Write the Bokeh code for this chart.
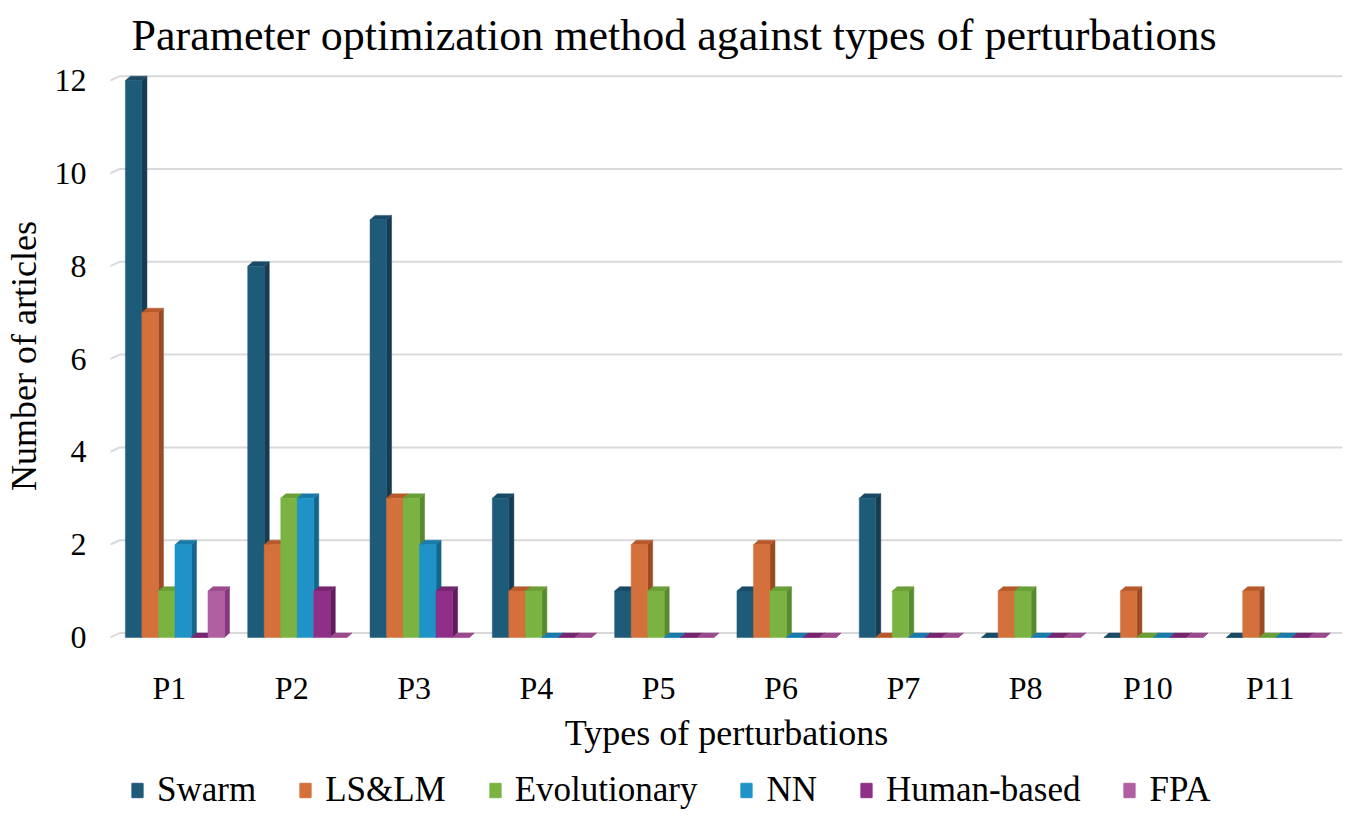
from bokeh.plotting import figure
from bokeh.models import FixedTicker, Legend, LegendItem, ColumnDataSource, Title
from bokeh.layouts import column
from bokeh.embed import file_html
from bokeh.resources import INLINE

# ---- data ----
cats = ["P1", "P2", "P3", "P4", "P5", "P6", "P7", "P8", "P10", "P11"]
series_names = ["Swarm", "LS&LM", "Evolutionary", "NN", "Human-based", "FPA"]
swarm = [12, 8, 9, 3, 1, 1, 3, 0, 0, 0]
ls_lm = [7, 2, 3, 1, 2, 2, 0, 1, 1, 1]
evolutionary = [1, 3, 3, 1, 1, 1, 1, 1, 0, 0]
nn = [2, 3, 2, 0, 0, 0, 0, 0, 0, 0]
human_based = [0, 1, 1, 0, 0, 0, 0, 0, 0, 0]
fpa = [1, 0, 0, 0, 0, 0, 0, 0, 0, 0]
y_ticks = [0, 2, 4, 6, 8, 10, 12]

series = [swarm, ls_lm, evolutionary, nn, human_based, fpa]
front_colors = ["#1E5B79", "#D4703B", "#7BB342", "#1F93C8", "#902F88", "#B060A1"]
side_colors = ["#173B50", "#9A4A24", "#5A8A2E", "#15668C", "#601D5B", "#86387A"]
top_colors = ["#1A4B66", "#B65A2C", "#6A9F38", "#1A7BAA", "#76266F", "#9C4A8E"]

FONT = "Liberation Serif"
X0, X1 = -0.482, 9.591
Y0, Y1 = -0.13, 12.26

p = figure(frame_width=1232, frame_height=575, output_backend="svg", toolbar_location=None,
           x_range=(X0, X1), y_range=(Y0, Y1),
           min_border_left=102, min_border_right=5, min_border_top=62,
           min_border_bottom=0)
p.outline_line_color = None
p.xgrid.visible = False
p.ygrid.visible = False
p.background_fill_color = "white"

p.title.text = "Parameter optimization method against types of perturbations"
p.title.align = "left"
p.title.offset = 21
p.title.standoff = 17
p.title.text_font = FONT
p.title.text_font_size = "44px"
p.title.text_font_style = "normal"
p.title.text_color = "#000000"

# depth of the 3D effect
dx = 0.041
dy = 0.095

# back-wall gridlines with a slanted floor edge
gx = []
gy = []
for t in y_ticks:
    gx.append([X0 - 0.02, X0 + 0.075, X1])
    gy.append([t - 0.02, t + dy, t + dy])
p.multi_line(gx, gy, line_color="#D9D9D9", line_width=2)

n = len(series)
group_w = 0.81
bw = group_w / n
shift = 0.045
for k, vals in enumerate(series):
    lefts = [i + shift - group_w / 2 + k * bw for i in range(len(cats))]
    rights = [l + bw for l in lefts]
    sx, sy, tx, ty = [], [], [], []
    for l, r, v in zip(lefts, rights, vals):
        sx.append([r, r + dx, r + dx, r])
        sy.append([0, dy, v + dy, v])
        tx.append([l, l + dx, r + dx, r])
        ty.append([v, v + dy, v + dy, v])
    p.patches(sx, sy, fill_color=side_colors[k], line_color=side_colors[k], line_width=0.5)
    p.patches(tx, ty, fill_color=top_colors[k], line_color=top_colors[k], line_width=0.5)
    src = ColumnDataSource(dict(left=lefts, right=rights, top=vals, bottom=[0] * len(vals)))
    p.quad(left="left", right="right", top="top", bottom="bottom", source=src,
           fill_color=front_colors[k], line_color=front_colors[k], line_width=0.5)

# axes
p.xaxis.ticker = FixedTicker(ticks=list(range(len(cats))))
p.xaxis.major_label_overrides = {i: c for i, c in enumerate(cats)}
p.yaxis.ticker = FixedTicker(ticks=y_ticks)
p.yaxis.axis_label = "Number of articles"
for ax in (p.xaxis, p.yaxis):
    ax.axis_line_color = None
    ax.major_tick_line_color = None
    ax.minor_tick_line_color = None
    ax.major_tick_out = 0
    ax.major_tick_in = 0
    ax.major_label_text_font = FONT
    ax.major_label_text_font_size = "32px"
    ax.major_label_text_color = "#000000"
    ax.axis_label_text_font = FONT
    ax.axis_label_text_font_size = "36px"
    ax.axis_label_text_font_style = "normal"
    ax.axis_label_text_color = "#000000"
p.xaxis.major_label_standoff = 26
p.yaxis.major_label_standoff = 24
p.yaxis.axis_label_standoff = 8

xtitle = Title(text="Types of perturbations", align="center", text_font=FONT,
               text_font_size="36px", text_font_style="normal", text_color="#000000",
               standoff=4)
p.add_layout(xtitle, "below")

# ---- legend strip ----
lg = figure(width=1339, height=56, output_backend="svg", toolbar_location=None,
            x_range=(0, 1), y_range=(0, 1), x_axis_type=None, y_axis_type=None,
            min_border_left=0, min_border_right=0, min_border_top=0, min_border_bottom=0)
lg.outline_line_color = None
lg.xgrid.visible = False
lg.ygrid.visible = False
items = []
for k, name in enumerate(series_names):
    # legend swatches only: one row placed outside the visible range
    r = lg.quad(left=[5], right=[6], top=[5], bottom=[4],
                fill_color=front_colors[k], line_color=front_colors[k])
    items.append(LegendItem(label=name, renderers=[r]))
legend = Legend(items=items, orientation="horizontal", location=(20, 0),
                label_text_font=FONT, label_text_font_size="35px",
                label_text_color="#000000",
                glyph_width=14, glyph_height=18, label_standoff=13, spacing=42,
                padding=0, margin=0, border_line_color=None,
                background_fill_alpha=0)
lg.add_layout(legend)

open("out.html", "w").write(file_html(column(p, lg, spacing=0), INLINE))
